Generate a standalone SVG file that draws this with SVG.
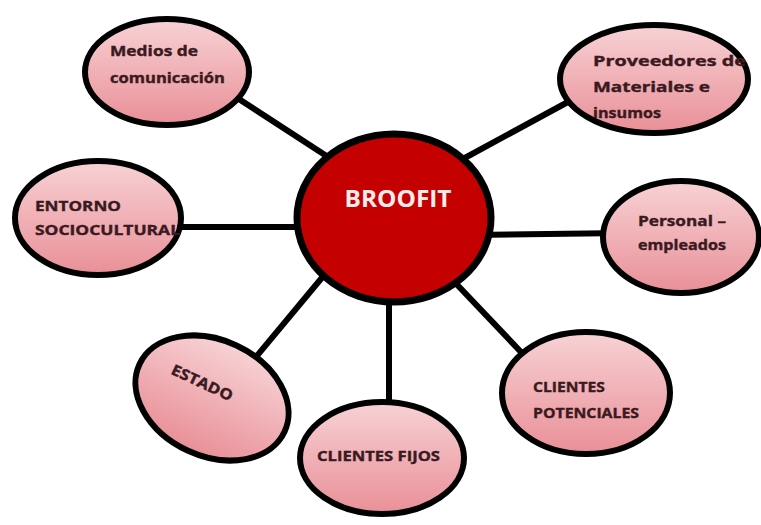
<svg xmlns="http://www.w3.org/2000/svg" width="761" height="525" viewBox="0 0 761 525">
<defs>
<linearGradient id="pink" x1="0" y1="0" x2="0" y2="1">
<stop offset="0" stop-color="#f7d2d5"/>
<stop offset="1" stop-color="#e98f97"/>
</linearGradient>
<style>
.node{fill:url(#pink);stroke:#000;stroke-width:6}
.lbl{font-family:"Open Sans","Liberation Sans",sans-serif;font-weight:bold;font-size:15px;fill:#3a1a1e;stroke:#3a1a1e;stroke-width:0.4}
.conn{stroke:#000;stroke-width:6;fill:none}
</style>
</defs>
<rect width="761" height="525" fill="#fff"/>
<g id="connectors">
<line class="conn" x1="225" y1="90" x2="345" y2="168"/>
<line class="conn" x1="450" y1="166" x2="590" y2="90"/>
<line class="conn" x1="160" y1="227" x2="320" y2="227"/>
<line class="conn" x1="470" y1="235" x2="625" y2="233"/>
<line class="conn" x1="236" y1="381" x2="335" y2="262"/>
<line class="conn" x1="389" y1="290" x2="389" y2="425"/>
<line class="conn" x1="445" y1="272" x2="540" y2="372"/>
</g>
<g id="center">
<ellipse cx="394" cy="218" rx="97" ry="84" fill="#c40000" stroke="#000" stroke-width="7"/>
<text x="398" y="207" text-anchor="middle" font-family="'Open Sans','Liberation Sans',sans-serif" font-weight="bold" font-size="23" fill="#fbecec" textLength="107" lengthAdjust="spacingAndGlyphs">BROOFIT</text>
</g>
<g id="medios">
<ellipse class="node" cx="167" cy="72" rx="82" ry="53"/>
<text class="lbl" x="110" y="56" textLength="88" lengthAdjust="spacingAndGlyphs">Medios de</text>
<text class="lbl" x="110" y="83" textLength="115" lengthAdjust="spacingAndGlyphs">comunicación</text>
</g>
<g id="proveedores">
<ellipse class="node" cx="654" cy="79" rx="94" ry="54"/>
<text class="lbl" x="593" y="66" textLength="153" lengthAdjust="spacingAndGlyphs">Proveedores de</text>
<text class="lbl" x="593" y="92" textLength="117" lengthAdjust="spacingAndGlyphs">Materiales e</text>
<text class="lbl" x="593" y="118" textLength="68" lengthAdjust="spacingAndGlyphs">insumos</text>
</g>
<g id="entorno">
<ellipse class="node" cx="98" cy="218" rx="83" ry="57"/>
<text class="lbl" x="35" y="211" textLength="86" lengthAdjust="spacingAndGlyphs">ENTORNO</text>
<text class="lbl" x="35" y="235" textLength="145" lengthAdjust="spacingAndGlyphs">SOCIOCULTURAL</text>
</g>
<g id="personal">
<ellipse class="node" cx="681" cy="237" rx="78" ry="56"/>
<text class="lbl" x="638" y="226" textLength="88" lengthAdjust="spacingAndGlyphs">Personal –</text>
<text class="lbl" x="638" y="250" textLength="88" lengthAdjust="spacingAndGlyphs">empleados</text>
</g>
<g id="estado">
<ellipse class="node" cx="212" cy="398" rx="80" ry="58" transform="rotate(25 212 398)"/>
<text class="lbl" x="202" y="388" text-anchor="middle" transform="rotate(25 202 383)" textLength="66" lengthAdjust="spacingAndGlyphs">ESTADO</text>
</g>
<g id="fijos">
<ellipse class="node" cx="382" cy="458" rx="82" ry="56"/>
<text class="lbl" x="317" y="461" textLength="123" lengthAdjust="spacingAndGlyphs">CLIENTES FIJOS</text>
</g>
<g id="potenciales">
<ellipse class="node" cx="586" cy="393" rx="84" ry="61"/>
<text class="lbl" x="533" y="392" textLength="72" lengthAdjust="spacingAndGlyphs">CLIENTES</text>
<text class="lbl" x="533" y="418" textLength="106" lengthAdjust="spacingAndGlyphs">POTENCIALES</text>
</g>
</svg>
